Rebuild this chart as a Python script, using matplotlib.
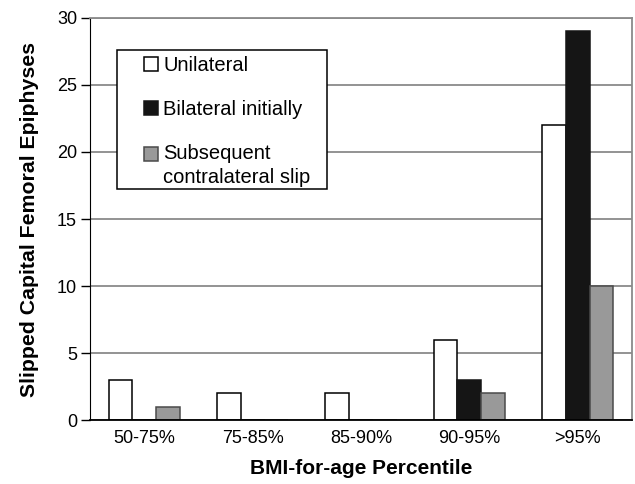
import numpy as np
import matplotlib.pyplot as plt
from matplotlib.patches import Rectangle
from matplotlib.legend_handler import HandlerPatch, update_from_first_child

plt.rcParams['font.family'] = ['Liberation Sans', 'DejaVu Sans']

categories = ['50-75%', '75-85%', '85-90%', '90-95%', '>95%']
unilateral = [3, 2, 2, 6, 22]
bilateral = [0, 0, 0, 3, 29]
subsequent = [1, 0, 0, 2, 10]

fig = plt.figure(figsize=(6.35, 4.84), dpi=100)
ax = fig.add_axes([0.142, 0.132, 0.853, 0.831])

x = np.arange(len(categories))
w = 0.22
ax.bar(x - w, unilateral, w, color='white', edgecolor='black', linewidth=1.1, label='Unilateral', zorder=3)
ax.bar(x, bilateral, w, color='#151515', edgecolor='#151515', linewidth=1.1, label='Bilateral initially', zorder=3)
b3 = ax.bar(x + w, subsequent, w, color='#999999', edgecolor='#4a4a4a', linewidth=1.1,
            label='Subsequent\ncontralateral slip', zorder=3)

ax.set_xlim(-0.5, 4.5)
ax.set_ylim(0, 30)
ax.set_yticks(range(0, 31, 5))
ax.set_xticks(x)
ax.set_xticklabels(categories, fontsize=13)
ax.tick_params(axis='y', labelsize=13, length=6.5, width=1, color='black', pad=3)
ax.tick_params(axis='x', length=0, pad=7)
ax.yaxis.grid(True, color='#8a8a8a', linewidth=1.3, zorder=0)

for s in ['top', 'right']:
    ax.spines[s].set_color('#8a8a8a')
    ax.spines[s].set_linewidth(1.3)
ax.spines['left'].set_color('black')
ax.spines['bottom'].set_color('black')
ax.spines['bottom'].set_zorder(4)
ax.spines['bottom'].set_linewidth(1.3)

ax.set_ylabel('Slipped Capital Femoral Epiphyses', fontsize=15.3, fontweight='bold', labelpad=13)
ax.set_xlabel('BMI-for-age Percentile', fontsize=15, fontweight='bold', labelpad=9)


def top_line_patch(legend, orig_handle, xdescent, ydescent, width, height, fontsize):
    # put the square next to the first line of the two-line label
    return Rectangle((-xdescent, -ydescent + 8.5), width, height)


# legend box drawn separately, the original has a wide left margin
ax.add_patch(Rectangle((0.050, 0.575), 0.387, 0.345, transform=ax.transAxes, facecolor='white',
                       edgecolor='black', linewidth=1.1, zorder=5))
leg = ax.legend(loc='upper left', bbox_to_anchor=(0.100, 0.905), fontsize=14.5, frameon=False,
                handlelength=0.7, handleheight=0.7, handletextpad=0.25,
                labelspacing=1.25, borderpad=0, borderaxespad=0,
                handler_map={b3: HandlerPatch(patch_func=top_line_patch, update_func=update_from_first_child)})
leg.get_texts()[2].set_linespacing(1.3)
leg.set_zorder(6)

fig.savefig('out.png', dpi=100)
